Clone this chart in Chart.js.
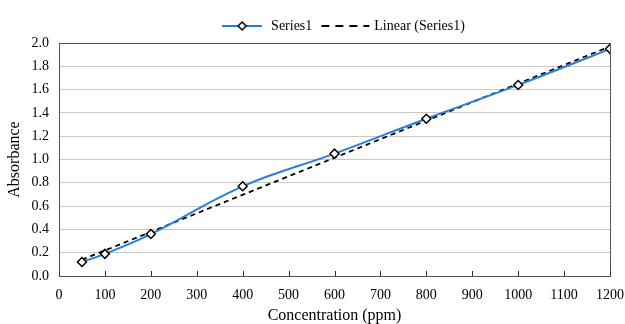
<!DOCTYPE html>
<html lang="en">
<head>
<meta charset="UTF-8">
<title>Absorbance vs Concentration</title>
<script src="https://cdn.jsdelivr.net/npm/chart.js"></script>
<style>
  body { margin: 0; background: #fff; }
  #wrap { width: 625px; height: 324px; position: relative; }
</style>
</head>
<body>
<div id="wrap"><canvas id="chart"></canvas></div>
<script>
// values
const concentration = [50, 100, 200, 400, 600, 800, 1000, 1200];
const absorbance = [0.12, 0.19, 0.36, 0.77, 1.05, 1.35, 1.64, 1.95];
// trend line end points (Linear (Series1))
const trendX = [50, 1200];
const trendY = [0.14, 1.97];
const xTicks = [0, 100, 200, 300, 400, 500, 600, 700, 800, 900, 1000, 1100, 1200];

const serif = "'Liberation Serif', 'Times New Roman', serif";
const blue = '#2a7fd4';

// little legend icons: line + diamond, and dashed line
function legendIcon(dashed) {
  const c = document.createElement('canvas');
  const g = c.getContext('2d');
  if (dashed) {
    c.width = 50; c.height = 12;
    g.lineWidth = 2;
    g.strokeStyle = '#000';
    g.setLineDash([8, 6]);
    g.beginPath(); g.moveTo(1, 6); g.lineTo(49, 6); g.stroke();
  } else {
    c.width = 40; c.height = 12;
    g.lineWidth = 2;
    g.strokeStyle = blue;
    g.beginPath(); g.moveTo(0, 6); g.lineTo(40, 6); g.stroke();
    g.fillStyle = '#fff';
    g.strokeStyle = '#000';
    g.lineWidth = 1.5;
    g.beginPath();
    g.moveTo(20, 2); g.lineTo(24, 6); g.lineTo(20, 10); g.lineTo(16, 6); g.closePath();
    g.fill(); g.stroke();
  }
  return c;
}

// plot frame and inward x ticks like the original
const framePlugin = {
  id: 'frame',
  afterLayout(chart) {
    // the original legend sits a bit right of the page centre
    if (chart.legend) { chart.legend.left += 30; chart.legend.right += 30; }
  },
  afterDraw(chart) {
    const { ctx, chartArea: a, scales } = chart;
    ctx.save();
    ctx.strokeStyle = '#555';
    ctx.lineWidth = 1;
    ctx.strokeRect(a.left + 0.5, a.top + 0.5, a.right - a.left, a.bottom - a.top);
    ctx.strokeStyle = '#333';
    xTicks.forEach(v => {
      const x = Math.round(scales.x.getPixelForValue(v)) + 0.5;
      ctx.beginPath();
      ctx.moveTo(x, a.bottom);
      ctx.lineTo(x, a.bottom - 5);
      ctx.stroke();
    });
    ctx.restore();
  }
};

new Chart(document.getElementById('chart'), {
  type: 'scatter',
  data: {
    datasets: [{
      label: 'Series1',
      data: concentration.map((x, i) => ({ x: x, y: absorbance[i] })),
      showLine: true,
      borderColor: blue,
      borderWidth: 2,
      tension: 0.4,
      pointStyle: 'rectRot',
      pointRadius: 4.5,
      pointBackgroundColor: '#fff',
      pointBorderColor: '#000',
      pointBorderWidth: 1.5,
      order: 1
    }, {
      label: 'Linear (Series1)',
      data: trendX.map((x, i) => ({ x: x, y: trendY[i] })),
      showLine: true,
      borderColor: '#000',
      borderWidth: 1.8,
      borderDash: [5, 4],
      pointRadius: 0,
      order: 2
    }]
  },
  options: {
    responsive: true,
    maintainAspectRatio: false,
    animation: false,
    layout: { padding: { top: 8, right: 0, left: 0, bottom: 0 } },
    plugins: {
      tooltip: { enabled: false },
      legend: {
        position: 'top',
        labels: {
          font: { family: serif, size: 14 },
          color: '#000',
          usePointStyle: true,
          pointStyleWidth: 44,
          padding: 11,
          generateLabels(chart) {
            return chart.data.datasets.map((ds, i) => ({
              text: ds.label,
              pointStyle: legendIcon(i === 1),
              datasetIndex: i,
              fontColor: '#000',
              lineWidth: 0
            }));
          }
        }
      }
    },
    scales: {
      x: {
        type: 'linear',
        min: 0, max: 1200,
        afterBuildTicks(s) { s.ticks = xTicks.map(v => ({ value: v })); },
        afterFit(s) { s.height = 48; s.paddingRight = 15; },
        grid: { drawOnChartArea: false, drawTicks: false },
        border: { display: false },
        ticks: { font: { family: serif, size: 14 }, color: '#000', padding: 11, maxRotation: 0, callback: v => String(v) },
        title: { display: true, text: 'Concentration (ppm)', font: { family: serif, size: 16, lineHeight: 1 }, color: '#000', padding: { top: 4, bottom: 0 } }
      },
      y: {
        min: 0, max: 2.0,
        afterFit(s) { s.width = 59; },
        ticks: {
          stepSize: 0.2,
          font: { family: serif, size: 14 },
          color: '#000',
          padding: 10,
          callback: v => v.toFixed(1)
        },
        grid: { color: '#c8c8c8', drawTicks: false },
        border: { display: false },
        title: { display: true, text: 'Absorbance', font: { family: serif, size: 16 }, color: '#000', padding: { top: 5, bottom: 4 } }
      }
    }
  },
  plugins: [framePlugin]
});
</script>
</body>
</html>
